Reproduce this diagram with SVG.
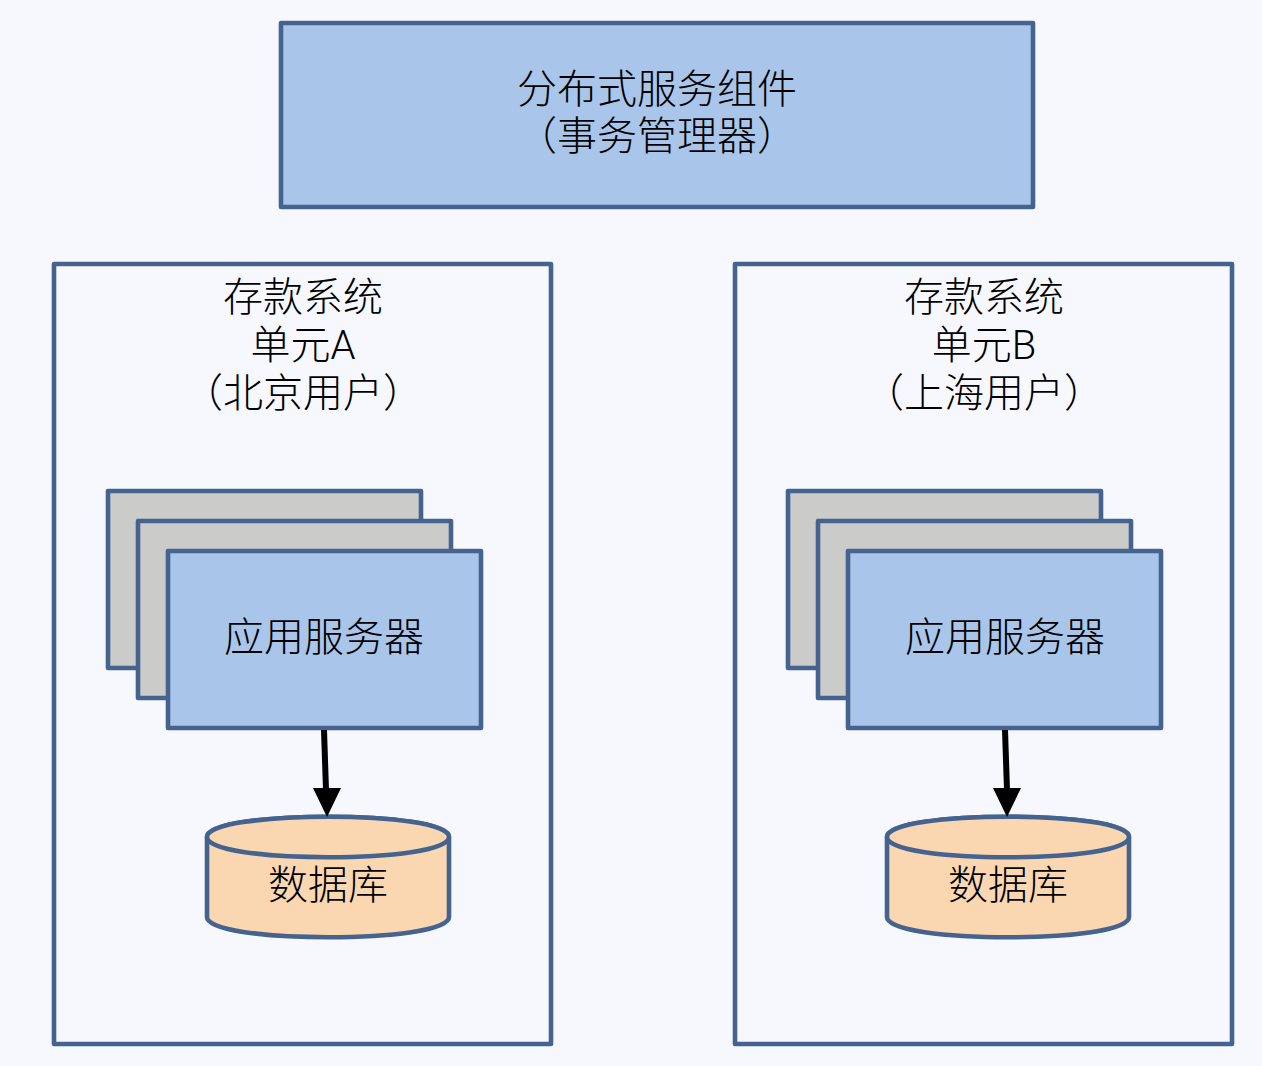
<svg xmlns="http://www.w3.org/2000/svg" width="1262" height="1066" viewBox="0 0 1262 1066">
<style>
.b{stroke:#45638e;stroke-width:4.6;stroke-linejoin:round}
.blue{fill:#a9c6ea}.grey{fill:#cbcbc9}.box{fill:none}.db{fill:#fad7b1}
text{font-family:Roboto,"Noto Sans CJK SC",sans-serif;font-size:40px;font-weight:300;fill:#000;text-anchor:middle}
.c{stroke:#000;stroke-width:6;fill:none}
</style>
<rect width="1262" height="1066" fill="#f6f8fe"/>
<g id="top"><rect class="b blue" x="281" y="23" width="752" height="184"/><text x="657" y="103">分布式服务组件</text><text x="657" y="150">（事务管理器）</text></g>
<g id="unitA"><rect class="b box" x="54" y="264" width="497" height="780"/><text x="303" y="311">存款系统</text><text x="303" y="359">单元A</text><text x="303" y="407">（北京用户）</text></g>
<g id="unitB"><rect class="b box" x="735" y="264" width="497" height="780"/><text x="984" y="311">存款系统</text><text x="984" y="359">单元B</text><text x="984" y="407">（上海用户）</text></g>
<g id="serverA"><rect class="b grey" x="108" y="491" width="313" height="177"/><rect class="b grey" x="138" y="521" width="313" height="177"/><rect class="b blue" x="168" y="551" width="313" height="177"/><text x="324" y="651">应用服务器</text></g>
<g id="serverB"><rect class="b grey" x="788" y="491" width="313" height="177"/><rect class="b grey" x="818" y="521" width="313" height="177"/><rect class="b blue" x="848" y="551" width="313" height="177"/><text x="1005" y="651">应用服务器</text></g>
<g id="dbA"><path class="b db" d="M207 837C207 810 449 810 449 837V917C449 944 207 944 207 917Z"/><path class="b db" d="M207 837C207 864 449 864 449 837C449 810 207 810 207 837Z"/><text x="328" y="899">数据库</text></g>
<g id="dbB"><path class="b db" d="M887 837C887 810 1129 810 1129 837V917C1129 944 887 944 887 917Z"/><path class="b db" d="M887 837C887 864 1129 864 1129 837C1129 810 887 810 887 837Z"/><text x="1008" y="899">数据库</text></g>
<g id="connectors">
<path class="c" d="M324 730L326 790"/><path d="M313 788L341 788L327 817Z"/>
<path class="c" d="M1005 730L1007 790"/><path d="M993 788L1021 788L1007 817Z"/>
</g>
</svg>
